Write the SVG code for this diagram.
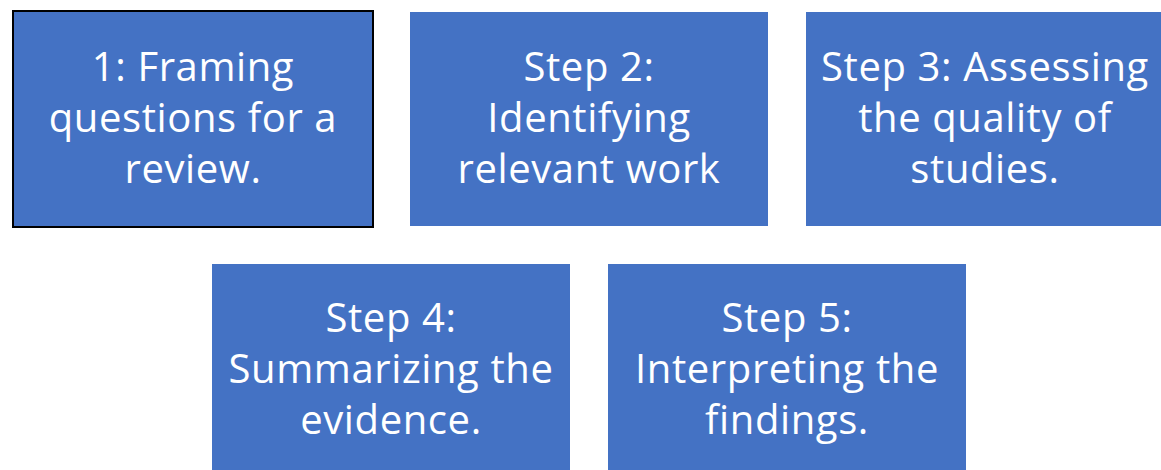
<svg xmlns="http://www.w3.org/2000/svg" width="1161" height="470" viewBox="0 0 1161 470">
<style>
.box{fill:#4472C4;}
.sel{stroke:#000;stroke-width:2;}
.t{fill:#fff;font-family:"Open Sans","Noto Sans","Liberation Sans",sans-serif;font-size:40px;letter-spacing:0.6px;text-anchor:middle;}
</style>
<rect width="1161" height="470" fill="#fff"/>
<g id="connectors"></g>
<g id="node1">
<rect class="box sel" x="13" y="11" width="360" height="216"/>
<text class="t" x="193" y="81">1: Framing</text>
<text class="t" x="193" y="132">questions for a</text>
<text class="t" x="193" y="183">review.</text>
</g>
<g id="node2">
<rect class="box" x="410" y="12" width="358" height="214"/>
<text class="t" x="589" y="81">Step 2:</text>
<text class="t" x="589" y="132">Identifying</text>
<text class="t" x="589" y="183">relevant work</text>
</g>
<g id="node3">
<rect class="box" x="806" y="12" width="355" height="214"/>
<text class="t" x="985" y="81">Step 3: Assessing</text>
<text class="t" x="985" y="132">the quality of</text>
<text class="t" x="985" y="183">studies.</text>
</g>
<g id="node4">
<rect class="box" x="212" y="264" width="358" height="206"/>
<text class="t" x="391" y="332">Step 4:</text>
<text class="t" x="391" y="383">Summarizing the</text>
<text class="t" x="391" y="434">evidence.</text>
</g>
<g id="node5">
<rect class="box" x="608" y="264" width="358" height="206"/>
<text class="t" x="787" y="332">Step 5:</text>
<text class="t" x="787" y="383">Interpreting the</text>
<text class="t" x="787" y="434">findings.</text>
</g>
</svg>
